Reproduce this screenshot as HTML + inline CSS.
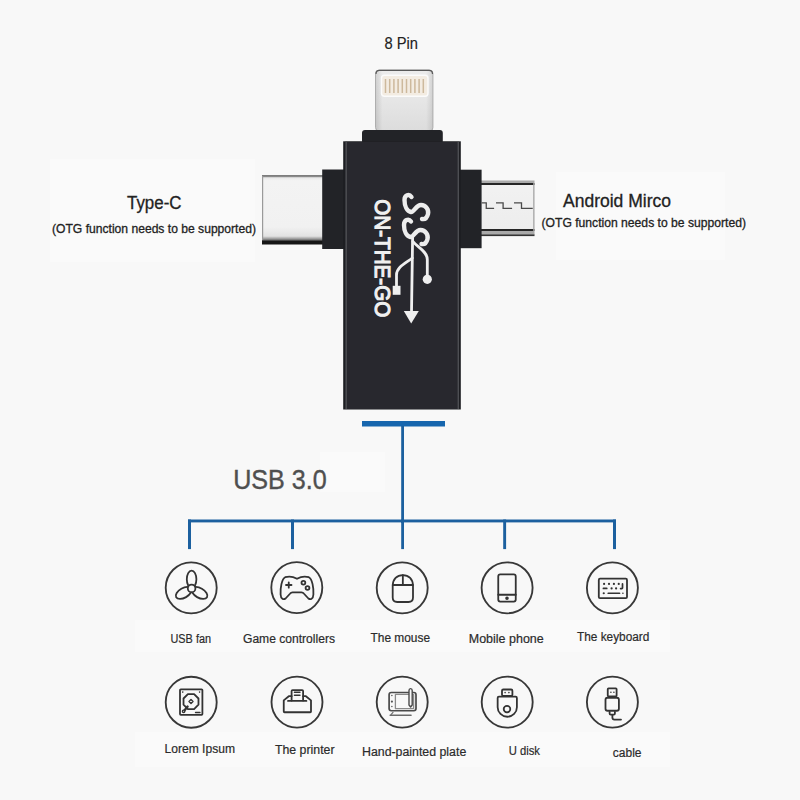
<!DOCTYPE html>
<html><head><meta charset="utf-8">
<style>
html,body{margin:0;padding:0;background:#f8f8f8;}
svg{display:block;}
text{font-family:"Liberation Sans",sans-serif;}
</style></head><body>
<svg width="800" height="800" viewBox="0 0 800 800">
<rect x="0" y="0" width="800" height="800" fill="#f8f8f8"/>
<g fill="#fafafa">
<rect x="50" y="159" width="205" height="103"/>
<rect x="556" y="172" width="169" height="88"/>
<rect x="320" y="452" width="65" height="40"/>
<rect x="135" y="620" width="535" height="32"/>
<rect x="135" y="732" width="535" height="35"/>
</g>

<!-- labels -->
<text x="384.5" y="49" font-size="16.5" fill="#222" stroke="#222" stroke-width="0.15" textLength="33.5" lengthAdjust="spacingAndGlyphs">8 Pin</text>
<text x="127" y="209.4" font-size="17.6" fill="#222" stroke="#222" stroke-width="0.3" textLength="54.5" lengthAdjust="spacingAndGlyphs">Type-C</text>
<text x="52" y="233" font-size="12.7" fill="#222" stroke="#222" stroke-width="0.3" textLength="204" lengthAdjust="spacingAndGlyphs">(OTG function needs to be supported)</text>
<text x="563" y="207.4" font-size="17.6" fill="#222" stroke="#222" stroke-width="0.3" textLength="108" lengthAdjust="spacingAndGlyphs">Android Mirco</text>
<text x="541.5" y="227" font-size="12.7" fill="#222" stroke="#222" stroke-width="0.3" textLength="204.5" lengthAdjust="spacingAndGlyphs">(OTG function needs to be supported)</text>

<!-- lightning -->
<defs>
<linearGradient id="lg" x1="0" y1="0" x2="0" y2="1">
<stop offset="0" stop-color="#ececec"/><stop offset="0.5" stop-color="#e6e6e6"/><stop offset="1" stop-color="#dcdcdc"/>
</linearGradient>
<linearGradient id="lgx" x1="0" y1="0" x2="1" y2="0">
<stop offset="0" stop-color="#000" stop-opacity="0.12"/><stop offset="0.12" stop-color="#000" stop-opacity="0"/><stop offset="0.88" stop-color="#000" stop-opacity="0"/><stop offset="1" stop-color="#000" stop-opacity="0.1"/>
</linearGradient>
<linearGradient id="tc" x1="0" y1="0" x2="0" y2="1">
<stop offset="0" stop-color="#777"/><stop offset="0.022" stop-color="#8a8a8a"/><stop offset="0.04" stop-color="#e8e8e8"/><stop offset="0.08" stop-color="#f3f3f3"/><stop offset="0.75" stop-color="#f1f1f1"/><stop offset="0.88" stop-color="#e2e2e2"/><stop offset="0.925" stop-color="#8f8f8f"/><stop offset="0.955" stop-color="#161616"/><stop offset="1" stop-color="#161616"/>
</linearGradient>
<linearGradient id="mu" x1="0" y1="0" x2="0" y2="1">
<stop offset="0" stop-color="#f2f2f2"/><stop offset="1" stop-color="#ececec"/>
</linearGradient>
</defs>
<rect x="375.5" y="70" width="57.5" height="61" rx="3.5" fill="url(#lg)" stroke="#b9b9b9" stroke-width="1"/>
<rect x="375.5" y="70" width="57.5" height="61" rx="3.5" fill="url(#lgx)"/>
<path d="M376 74 Q376 70.4 379.5 70.4 H429 Q432.5 70.4 432.5 74" fill="none" stroke="#5a5a5a" stroke-width="1.2"/>
<rect x="381.5" y="75.3" width="46.5" height="21" rx="3" fill="#f3ece2" stroke="#fbfbfb" stroke-width="1.4"/>
<g stroke="#cdb99c" stroke-width="1.5">
<line x1="385.5" y1="79" x2="385.5" y2="93"/><line x1="389.7" y1="79" x2="389.7" y2="93"/><line x1="393.9" y1="79" x2="393.9" y2="93"/><line x1="398.1" y1="79" x2="398.1" y2="93"/><line x1="402.3" y1="79" x2="402.3" y2="93"/><line x1="406.5" y1="79" x2="406.5" y2="93"/><line x1="410.7" y1="79" x2="410.7" y2="93"/><line x1="414.9" y1="79" x2="414.9" y2="93"/><line x1="419.1" y1="79" x2="419.1" y2="93"/><line x1="423.3" y1="79" x2="423.3" y2="93"/>
</g>

<!-- type-c -->
<rect x="262" y="175" width="61" height="69.5" fill="url(#tc)"/>
<rect x="262" y="176" width="1.2" height="64" fill="#9a9a9a"/>
<!-- micro usb -->
<rect x="481" y="180.5" width="53.5" height="55.5" fill="url(#mu)"/>
<rect x="481" y="180.5" width="53.5" height="2.5" fill="#ababab"/>
<rect x="481" y="183" width="53.5" height="2" fill="#262626"/>
<rect x="481" y="229" width="53.5" height="2" fill="#262626"/>
<rect x="481" y="231" width="53.5" height="4" fill="#a9a9a9"/>
<rect x="481" y="234.5" width="53.5" height="1.6" fill="#333"/>
<rect x="533.2" y="183" width="1.3" height="48" fill="#a5a5a5"/>
<path d="M481.75 202.8 H486.25 V208.3 H494.1 M496 202.8 H503.1 V208.3 H512.1 M514 202.8 H521.5 V208.3 H532.75" fill="none" stroke="#4a4a4a" stroke-width="1.3"/>

<!-- body -->
<rect x="362" y="130" width="80.8" height="14" rx="3" fill="#222327"/>
<rect x="322.2" y="169.5" width="23" height="79.5" fill="#222327"/>
<rect x="459" y="169.7" width="22.6" height="78.5" fill="#222327"/>
<rect x="343.2" y="141.3" width="117.6" height="268.2" fill="#1d1e22"/>
<rect x="345.3" y="141.8" width="113.5" height="267.2" fill="#28282e"/>
<rect x="345.5" y="142" width="1.4" height="267" fill="#4d4e53"/>
<rect x="457.6" y="142" width="1.4" height="267" fill="#4d4e53"/>

<!-- ON-THE-GO -->
<text transform="translate(375 199.3) rotate(90)" font-size="22.5" fill="#f0f0f0" stroke="#f0f0f0" stroke-width="1.2" textLength="118" lengthAdjust="spacingAndGlyphs">ON-THE-GO</text>
<!-- SS logo -->
<g stroke="#ededed" stroke-width="4.4" fill="none" stroke-linecap="round" stroke-linejoin="round">
<path d="M411.5 197 C409 193.5 404.5 195 404.5 200 C404.5 206 407 211 411 212 C414 212.5 416 205 421 205 C426 205 429 210 428 214 C427 218 424.5 219.5 422 219"/>
<path d="M411 221.5 C408.5 218 404 220 404 225 C404 231 406.5 236 410.5 237 C413.5 237.5 415.5 230 420.5 230 C425.5 230 428.5 235 427.5 239 C426.5 243 424 244.5 421.5 244"/>
</g>
<g stroke="#efefef" stroke-width="2.8" fill="none" stroke-linejoin="round" stroke-linecap="round">
<path d="M412.6 238 L411.5 313"/>
<path d="M412.3 258 C406 263 396.5 267 396.5 275 V287"/>
<path d="M413 241.5 C417 247 427.3 251 427.3 259.5 V275"/>
</g>
<rect x="392.7" y="285.8" width="7.8" height="9" fill="#efefef"/>
<circle cx="427.3" cy="279.3" r="4.6" fill="#efefef"/>
<path d="M403.8 311 H418.8 L411.2 323.5 Z" fill="#efefef"/>

<!-- blue tree -->
<g fill="#1c609f">
<rect x="362" y="421" width="83" height="5.5" fill="#1766ae"/>
<rect x="401.2" y="426" width="2.8" height="97"/>
<rect x="188" y="519.5" width="428" height="2.9"/>
<rect x="188" y="519.5" width="3" height="29.6"/>
<rect x="291" y="519.5" width="3" height="29.6"/>
<rect x="401.2" y="519.5" width="2.8" height="29.6"/>
<rect x="503.2" y="519.5" width="2.9" height="29.6"/>
<rect x="613" y="519.5" width="3" height="29.6"/>
</g>
<text x="233.2" y="489" font-size="27.5" fill="#4f4f4f" stroke="#4f4f4f" stroke-width="0.4" textLength="93.5" lengthAdjust="spacingAndGlyphs">USB 3.0</text>

<!-- icon circles -->
<g fill="none" stroke="#383838" stroke-width="1.85">
<circle cx="191.2" cy="587.8" r="25.5"/>
<circle cx="296.8" cy="587.6" r="25.5"/>
<circle cx="402.2" cy="587.8" r="25.5"/>
<circle cx="507.1" cy="587.8" r="25.5"/>
<circle cx="612.4" cy="587.8" r="25.5"/>
<circle cx="191.2" cy="702.2" r="25.5"/>
<circle cx="297" cy="702.1" r="25.5"/>
<circle cx="402.2" cy="702.1" r="25.5"/>
<circle cx="507.2" cy="702.1" r="25.5"/>
<circle cx="612.4" cy="702.1" r="25.5"/>
</g>
<g fill="none" stroke="#333" stroke-width="1.8" stroke-linecap="round" stroke-linejoin="round">
<!-- fan -->
<g transform="translate(161 558)">
<ellipse cx="30.6" cy="21.3" rx="4.8" ry="8.7"/>
<ellipse cx="30.6" cy="21.3" rx="4.8" ry="8.7" transform="rotate(120 30.6 30.4)"/>
<ellipse cx="30.6" cy="21.3" rx="4.8" ry="8.7" transform="rotate(240 30.6 30.4)"/>
<circle cx="30.6" cy="30.4" r="3.8" fill="#f8f8f8"/>
</g>
<!-- controller -->
<g transform="translate(267 558)">
<path d="M18.2 19.2 Q24 17.3 30 20.8 Q36 17.3 41.8 19.2 C45.3 21 46.8 30 46.4 36.5 C46.2 41 43.4 42 41.4 40.5 L36.8 35.5 Q36 34.3 34.5 34.3 H25.5 Q24 34.3 23.2 35.5 L18.6 40.5 C16.6 42 13.8 41 13.6 36.5 C13.2 30 14.7 21 18.2 19.2 Z"/>
<path d="M19 27 H24.5 M21.75 24.3 V29.7"/>
<circle cx="36.4" cy="24.75" r="1.9"/>
<circle cx="40.5" cy="30" r="1.9"/>
</g>
<!-- mouse -->
<g transform="translate(372 558)">
<path d="M20.7 28 C20.7 21 25 17.1 30.85 17.1 C36.7 17.1 41 21 41 28 V39.5 Q41 44 36.5 44 H25.2 Q20.7 44 20.7 39.5 Z"/>
<path d="M20.7 27 H41 M30.85 17.1 V27"/>
</g>
<!-- phone -->
<g transform="translate(477 558)">
<rect x="21.25" y="16.4" width="17.5" height="27.2" rx="2"/>
<path d="M21.25 36.75 H38.75"/>
<circle cx="30" cy="40.3" r="0.9" fill="#333"/>
</g>
<!-- keyboard -->
<g transform="translate(582 558)">
<rect x="16.8" y="20.7" width="28.2" height="19.5" rx="1.2"/>
<g fill="#333" stroke="none">
<circle cx="22.1" cy="25.9" r="1.1"/><circle cx="27" cy="25.9" r="1.1"/><circle cx="31.9" cy="25.9" r="1.1"/><circle cx="36.75" cy="25.9" r="1.1"/>
<circle cx="29.6" cy="30.4" r="1.1"/><circle cx="34.1" cy="30.4" r="1.1"/>
<circle cx="21.75" cy="35.25" r="1.1"/><circle cx="40.9" cy="35.25" r="0.8"/>
</g>
<path d="M21.4 30.4 H24.75 M26.25 35.25 H37.5 M40.5 25.9 V30 Q40.5 30.6 39.8 30.6 H38.6" stroke-width="1.7"/>
</g>
<!-- hdd -->
<g transform="translate(161 672)">
<rect x="19" y="17.3" width="22.4" height="25.6" rx="0.8"/>
<path d="M37.48 32.70 L33.10 37.08 L26.90 37.08 L22.52 32.70 L22.52 26.50 L26.90 22.12 L33.10 22.12 L37.48 26.50 Z"/>
<path d="M30 27.6 L32 29.6 L30 31.6 L28 29.6 Z" stroke-width="1.4"/>
<path d="M26.6 34.6 L23.4 38.4" stroke-width="2.4"/><circle cx="22.6" cy="39.3" r="1.2" stroke-width="1.4" fill="#f8f8f8"/>
<path d="M34.5 40.5 H39" stroke-width="1.4"/>
<g fill="#333" stroke="none"><circle cx="21.75" cy="20.1" r="0.8"/><circle cx="38.6" cy="20.1" r="0.8"/></g>
</g>
<!-- printer -->
<g transform="translate(267 672)">
<path d="M24.6 28.5 V19.1 Q24.6 18.1 25.6 18.1 H35.1 Q36.1 18.1 36.1 19.1 V28.5"/>
<path d="M24.6 24.2 H21.8 L16.75 28.4 V39.5 Q16.75 40.25 17.5 40.25 H43.25 Q44 40.25 44 39.5 V28.4 L38.9 24.2 H36.1"/>
<path d="M21 28.9 H39.4"/>
<path d="M27.4 20.25 H33 M27.4 23.25 H33" stroke-width="1.4"/>
</g>
<!-- tablet -->
<g transform="translate(372 672)" stroke="#4a4a4a">
<rect x="17.1" y="20.5" width="26.9" height="18.25" rx="2.2" stroke-width="1.7"/>
<rect x="23.4" y="22.4" width="18.2" height="14.2" stroke="#8a8a8a" stroke-width="1.3"/>
<path d="M37 33 V18.4 Q37 16.6 38.6 16.6 Q40.2 16.6 40.2 18.4 V33 L38.6 35 Z" fill="#f8f8f8" stroke-width="1.4"/>
<path d="M18.2 43.2 H39" stroke="#6a6a6a" stroke-width="1.6"/>
<path d="M21 40.4 L19 42.6" stroke="#6a6a6a" stroke-width="1.2"/>
<g fill="#555" stroke="none"><circle cx="19.9" cy="23.6" r="0.75"/><circle cx="19.9" cy="29.6" r="1.1"/><circle cx="19.9" cy="34.5" r="0.75"/></g>
</g>
<!-- usb disk -->
<g transform="translate(477 672)">
<rect x="25" y="17.5" width="10.4" height="6.5" rx="1.3"/>
<path d="M20.65 25.9 Q20.65 24.6 21.9 24.6 H38.6 Q39.9 24.6 39.9 25.9 V35.2 C39.9 40.5 35.6 44.75 30.3 44.75 C25 44.75 20.65 40.5 20.65 35.2 Z"/>
<circle cx="30" cy="37.1" r="3.3"/>
<g fill="#333" stroke="none"><circle cx="28.1" cy="20.6" r="0.8"/><circle cx="31.9" cy="20.6" r="0.8"/></g>
</g>
<!-- cable -->
<g transform="translate(582 672)">
<rect x="25.75" y="16.4" width="8.85" height="8" rx="0.8"/>
<rect x="23.5" y="25.75" width="13.4" height="13" rx="2"/>
<path d="M27.6 39.9 V41.5 Q27.6 42.6 28.7 42.6 H31.8 Q32.9 42.6 32.9 41.5 V39.9"/>
<path d="M30.4 42.8 V45.5 Q30.4 47.6 32.5 47.6 H39"/>
<g fill="#333" stroke="none"><circle cx="28.9" cy="20.25" r="0.8"/><circle cx="31.9" cy="20.25" r="0.8"/></g>
</g>
</g>

<!-- icon labels -->
<g fill="#2b2b2b" font-size="12.5" stroke="#2b2b2b" stroke-width="0.2">
<text x="170.5" y="642.5" textLength="40.5" lengthAdjust="spacingAndGlyphs">USB fan</text>
<text x="243" y="642.5" textLength="92" lengthAdjust="spacingAndGlyphs">Game controllers</text>
<text x="370.5" y="642" textLength="59.5" lengthAdjust="spacingAndGlyphs">The mouse</text>
<text x="468.75" y="642.5" textLength="75" lengthAdjust="spacingAndGlyphs">Mobile phone</text>
<text x="577" y="641.3" textLength="72.4" lengthAdjust="spacingAndGlyphs">The keyboard</text>
<text x="164.5" y="753" textLength="70.5" lengthAdjust="spacingAndGlyphs">Lorem Ipsum</text>
<text x="275" y="753.75" textLength="59.5" lengthAdjust="spacingAndGlyphs">The printer</text>
<text x="362" y="755.75" textLength="104.25" lengthAdjust="spacingAndGlyphs">Hand-painted plate</text>
<text x="508.75" y="755" textLength="31.25" lengthAdjust="spacingAndGlyphs">U disk</text>
<text x="612.8" y="756.6" textLength="28.7" lengthAdjust="spacingAndGlyphs">cable</text>
</g>
</svg>
</body></html>
